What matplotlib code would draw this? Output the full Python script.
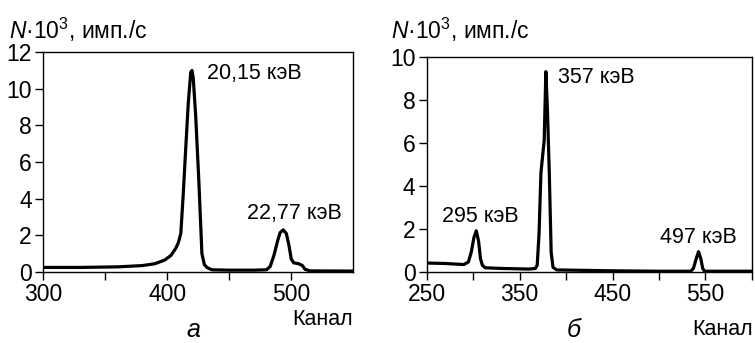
import matplotlib

matplotlib.use("Agg")
import matplotlib.pyplot as plt

plt.rcParams["font.family"] = ["Liberation Sans", "DejaVu Sans"]
plt.rcParams["mathtext.fontset"] = "custom"
plt.rcParams["mathtext.rm"] = "Liberation Sans"
plt.rcParams["mathtext.it"] = "Liberation Sans:italic"

# спектр (а): канал -> N*10^3, имп./с
chan_a = [300, 330, 360, 380, 390, 398, 403, 407, 409, 411, 413, 415, 417, 419,
          420, 421, 423, 425.5, 428, 430, 432, 436, 450, 470, 480, 483, 486,
          489, 491, 493.5, 496, 498, 500, 502, 506, 509, 511, 515, 550]
cnt_a = [0.25, 0.25, 0.28, 0.35, 0.45, 0.65, 0.9, 1.3, 1.6, 2.1, 4.3, 6.8, 9.2, 10.9,
         11.0, 10.6, 8.5, 5.0, 1.0, 0.4, 0.25, 0.12, 0.1, 0.1, 0.12, 0.3, 0.9,
         1.7, 2.15, 2.3, 2.1, 1.5, 0.7, 0.5, 0.45, 0.35, 0.15, 0.06, 0.05]

# спектр (б)
chan_b = [250, 270, 290, 295, 298, 301, 303.5, 306, 308, 310, 313, 330, 360, 367,
          369, 371, 373, 376.5, 378.3, 380, 382, 384, 386, 390, 450, 500, 534,
          537, 540, 542.5, 545, 547, 549, 600]
cnt_b = [0.4, 0.38, 0.33, 0.45, 0.9, 1.6, 1.9, 1.4, 0.6, 0.3, 0.18, 0.15, 0.12, 0.15,
         0.3, 1.8, 4.6, 6.1, 9.3, 7.5, 4.6, 0.9, 0.2, 0.08, 0.04, 0.02, 0.02,
         0.15, 0.6, 0.93, 0.6, 0.15, 0.02, 0.02]

peaks_a = [("20,15 кэВ", 420, 11.0), ("22,77 кэВ", 493.5, 2.3)]
peaks_b = [("295 кэВ", 303.5, 1.9), ("357 кэВ", 378.3, 9.3), ("497 кэВ", 542.5, 0.93)]

fig = plt.figure(figsize=(7.55, 3.43), dpi=100)
ax_a = fig.add_axes([0.057, 0.207, 0.411, 0.641])
ax_b = fig.add_axes([0.565, 0.208, 0.431, 0.627])

for ax, x, y, xlim, ylim in ((ax_a, chan_a, cnt_a, (300, 550), (0, 12)),
                             (ax_b, chan_b, cnt_b, (250, 600), (0, 10))):
    ax.plot(x, y, color="k", lw=2.3, solid_joinstyle="round")
    ax.set_xlim(*xlim)
    ax.set_ylim(*ylim)
    ax.tick_params(direction="out", length=6, width=1, labelsize=16.5, pad=2)
    for s in ax.spines.values():
        s.set_linewidth(1.0)

ax_a.set_xticks([300, 350, 400, 450, 500])
ax_a.set_xticklabels(["300", "", "400", "", "500"])
ax_a.set_yticks(range(0, 13, 2))
ax_b.set_xticks(range(250, 601, 50))
ax_b.set_xticklabels(["250", "", "350", "", "450", "", "550", ""])
ax_b.set_yticks(range(0, 11, 2))

# подписи пиков: (ось, пик, сдвиг в пунктах, выравнивание)
labels = [(ax_a, peaks_a[0], (11, -2), "left"),
          (ax_a, peaks_a[1], (8, 12), "center"),
          (ax_b, peaks_b[0], (3, 10), "center"),
          (ax_b, peaks_b[1], (9, -4), "left"),
          (ax_b, peaks_b[2], (0, 10), "center")]
for ax, (txt, px, py), off, ha in labels:
    ax.annotate(txt, (px, py), xytext=off, textcoords="offset points",
                fontsize=15.5, ha=ha, va="center")

ylab = "$N$·10$^3$, имп./с"
fig.text(0.012, 0.913, ylab, fontsize=16.5, va="center")
fig.text(0.518, 0.913, ylab, fontsize=16.5, va="center")
fig.text(0.467, 0.068, "Канал", fontsize=15.5, ha="right", va="center")
fig.text(0.997, 0.038, "Канал", fontsize=15.5, ha="right", va="center")
fig.text(0.256, 0.004, "а", fontsize=18, style="italic", ha="center", va="bottom")
fig.text(0.76, 0.002, "б", fontsize=18, style="italic", ha="center", va="bottom")

fig.savefig("out.png", dpi=100)
